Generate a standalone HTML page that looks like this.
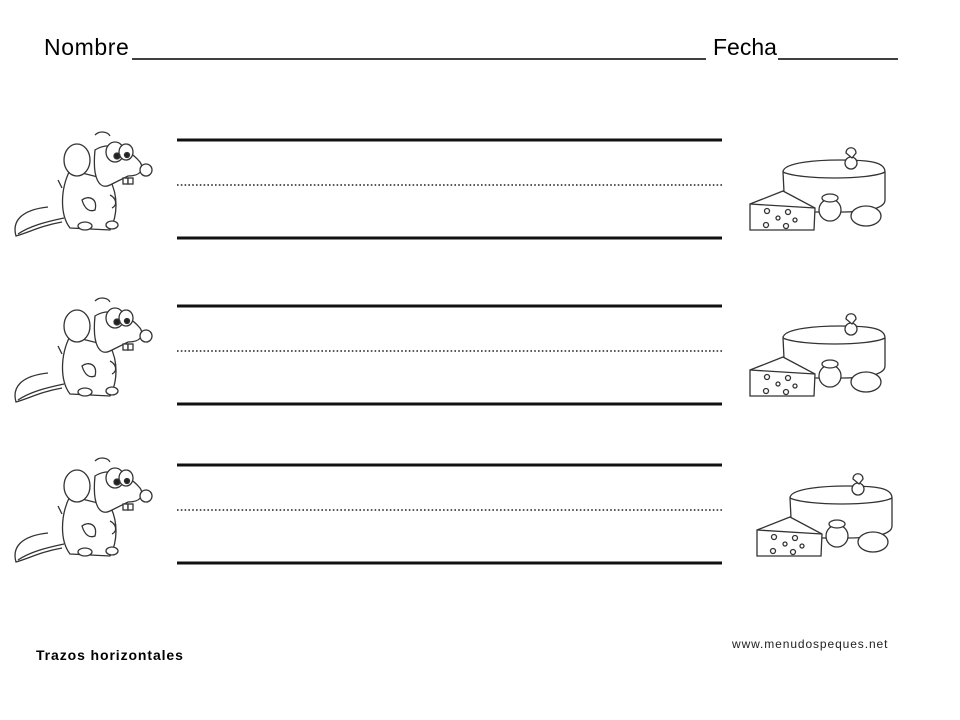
<!DOCTYPE html>
<html><head><meta charset="utf-8"><style>
html,body{margin:0;padding:0;background:#fff;width:960px;height:720px;overflow:hidden}
</style></head><body>
<svg width="960" height="720" viewBox="0 0 960 720" xmlns="http://www.w3.org/2000/svg">
<defs>
<g id="mouse" fill="#fff" stroke="#333" stroke-width="1.3">
<path d="M48 207 C20 210 12 222 16 236 C30 232 40 226 62 222" />
<path d="M18 234 C30 226 45 222 64 218"/>
<path d="M70 170 C60 190 60 215 70 228 L110 230 C118 215 118 195 110 180 Z"/>
<ellipse cx="77" cy="160" rx="13" ry="16"/>
<path d="M95 150 C110 140 130 150 140 162 C145 170 140 176 128 176 L110 185 C100 190 92 180 95 150Z"/>
<circle cx="146" cy="170" r="6"/>
<ellipse cx="115" cy="152" rx="9" ry="10"/>
<ellipse cx="126" cy="152" rx="7" ry="8"/>
<circle cx="117" cy="156" r="3" fill="#222"/>
<circle cx="127" cy="155" r="2.5" fill="#222"/>
<rect x="123" y="178" width="5" height="6"/><rect x="128" y="178" width="5" height="6"/>
<path d="M82 200 C88 195 98 198 95 210 C90 212 85 210 82 200Z"/>
<path d="M110 195 C116 198 118 205 112 208"/>
<ellipse cx="85" cy="226" rx="7" ry="4"/><ellipse cx="112" cy="225" rx="6" ry="4"/>
<path d="M95 135 C100 130 108 132 110 136" fill="none"/>
<path d="M58 180 L62 188" fill="none"/>
</g>
<g id="cheese" fill="#fff" stroke="#333" stroke-width="1.3">
<path d="M783 172 C783 162 820 160 840 160 C870 160 885 162 885 172 L885 200 C885 210 860 212 840 212 L785 212 Z"/>
<path d="M783 172 C800 180 870 180 885 172" fill="none"/>
<circle cx="851" cy="163" r="6"/><path d="M846 153 C846 146 856 146 856 153 L852 158 Z"/>
<path d="M750 204 L783 191 L815 208 L814 230 L750 230 Z"/>
<path d="M750 204 L815 208" fill="none"/>
<circle cx="830" cy="210" r="11"/><ellipse cx="830" cy="198" rx="8" ry="4"/>
<ellipse cx="866" cy="216" rx="15" ry="10"/>
<circle cx="767" cy="211" r="2.5"/><circle cx="788" cy="212" r="2.5"/><circle cx="778" cy="218" r="2"/><circle cx="795" cy="220" r="2"/><circle cx="766" cy="225" r="2.5"/><circle cx="786" cy="226" r="2.5"/>
</g>
<g id="lines">
<line x1="177" y1="140" x2="722" y2="140" stroke="#111" stroke-width="3"/>
<line x1="177" y1="185" x2="722" y2="185" stroke="#222" stroke-width="1.6" stroke-dasharray="1.6 2.2"/>
<line x1="177" y1="238" x2="722" y2="238" stroke="#111" stroke-width="3"/>
</g>
</defs>
<text x="44" y="55" font-family="Liberation Sans, sans-serif" font-size="23" letter-spacing="0.6" fill="#000">Nombre</text>
<line x1="132" y1="59" x2="706" y2="59" stroke="#000" stroke-width="1.6"/>
<text x="713" y="55" font-family="Liberation Sans, sans-serif" font-size="23" fill="#000">Fecha</text>
<line x1="778" y1="59" x2="898" y2="59" stroke="#000" stroke-width="1.6"/>
<use href="#mouse"/><use href="#cheese"/><use href="#lines"/>
<use href="#mouse" y="166"/><use href="#cheese" y="166"/><use href="#lines" y="166"/>
<use href="#mouse" y="326"/><use href="#cheese" x="7" y="326"/><use href="#lines" y="325"/>
<text x="36" y="660" font-family="Liberation Sans, sans-serif" font-size="14" font-weight="bold" letter-spacing="0.9" fill="#000">Trazos horizontales</text>
<text x="732" y="648" font-family="Liberation Sans, sans-serif" font-size="12" letter-spacing="0.9" fill="#222">www.menudospeques.net</text>
</svg>
</body></html>
